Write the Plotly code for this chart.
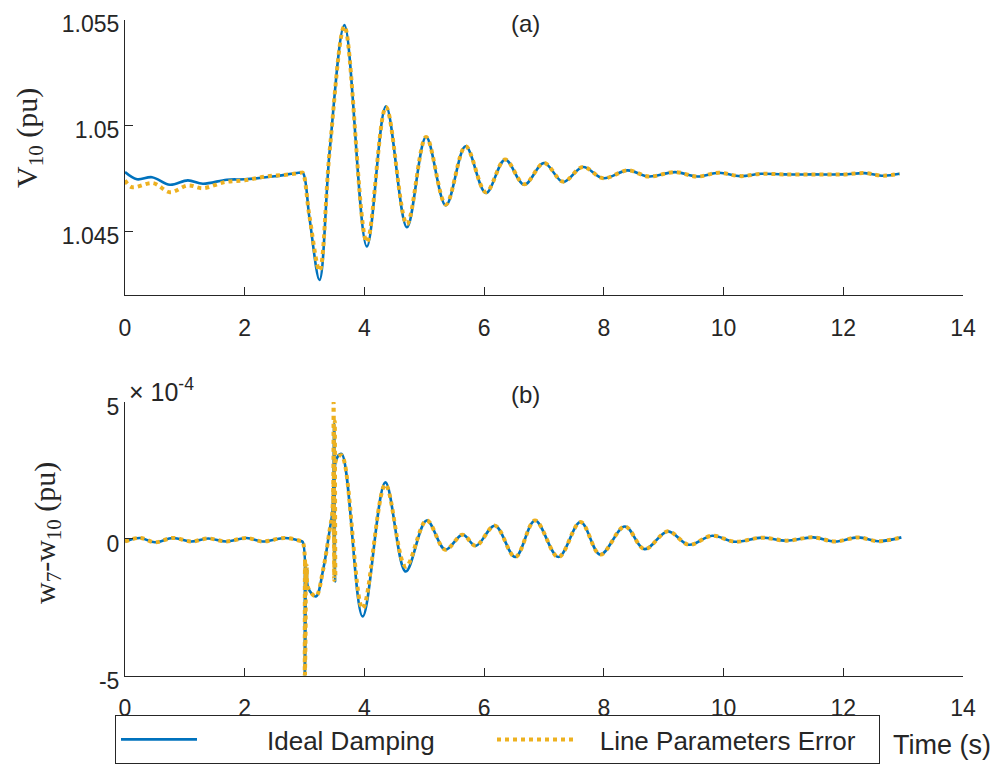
import plotly.graph_objects as go

# ---------------- data ----------------
x_ticks = [0, 2, 4, 6, 8, 10, 12, 14]

# (a) V10 (pu)
t_v_ideal = [0.00, 0.20, 0.45, 0.75, 1.05, 1.30, 1.70, 2.00, 2.50, 2.90, 2.97, 3.08, 3.25,
             3.42, 3.667, 4.04, 4.36, 4.71, 5.03, 5.36, 5.69, 6.03, 6.35, 6.67, 7.00,
             7.32, 7.65, 7.99, 8.40, 8.75, 9.19, 9.56, 9.92, 10.28, 10.63, 11.00, 11.50,
             12.00, 12.36, 12.67, 12.94]
v10_ideal = [1.04781, 1.04747, 1.04757, 1.04721, 1.04742, 1.04726, 1.04745, 1.04747, 1.04761,
             1.04778, 1.04778, 1.04568, 1.04271, 1.04884, 1.05476, 1.04429, 1.05092, 1.04520,
             1.04947, 1.04623, 1.04903, 1.04682, 1.04840, 1.04721, 1.04824, 1.04734, 1.04805,
             1.04752, 1.04789, 1.04760, 1.04781, 1.04760, 1.04778, 1.04762, 1.04773, 1.04770,
             1.04770, 1.04770, 1.04776, 1.04764, 1.04773]

t_v_err = [0.00, 0.11, 0.47, 0.75, 1.05, 1.30, 1.67, 2.00, 2.37, 2.75, 2.94, 2.97, 3.08, 3.25,
           3.42, 3.667, 4.04, 4.36, 4.71, 5.03, 5.36, 5.69, 6.03, 6.35, 6.67, 7.00,
           7.32, 7.65, 7.99, 8.40, 8.75, 9.19, 9.56, 9.92, 10.28, 10.63, 11.00, 11.50,
           12.00, 12.36, 12.67, 12.94]
v10_err = [1.04742, 1.04710, 1.04729, 1.04686, 1.04718, 1.04705, 1.04734, 1.04742, 1.04761,
           1.04770, 1.04778, 1.04778, 1.04575, 1.04315, 1.04884, 1.05470, 1.04450, 1.05088,
           1.04535, 1.04947, 1.04628, 1.04903, 1.04686, 1.04840, 1.04724, 1.04824, 1.04736,
           1.04805, 1.04752, 1.04789, 1.04760, 1.04781, 1.04760, 1.04778, 1.04762, 1.04773,
           1.04770, 1.04770, 1.04770, 1.04776, 1.04764, 1.04773]

# (b) w7 - w10 (pu), in units of 1e-4
t_w_ideal = [0.00, 0.25, 0.50, 0.80, 1.11, 1.39, 1.69, 2.03, 2.30, 2.67, 2.93, 2.97, 3.00,
             3.01, 3.025, 3.04, 3.06, 3.19, 3.31, 3.42, 3.465, 3.495, 3.51, 3.53, 3.62,
             3.97, 4.35, 4.69, 5.04, 5.35, 5.64, 5.86, 6.18, 6.52, 6.85, 7.24, 7.61,
             7.94, 8.35, 8.68, 9.07, 9.42, 9.81, 10.19, 10.64, 11.05, 11.50, 11.86,
             12.25, 12.58, 12.97]
w_ideal_e4 = [-0.10, 0.03, -0.13, 0.03, -0.10, 0.01, -0.10, 0.03, -0.10, 0.03, -0.08, -0.12,
              -6.0, -0.9, -1.6, -1.1, -1.8, -2.11, -1.13, 0.33, 1.0, 4.2, -1.56, 2.9, 3.10,
              -2.84, 2.06, -1.20, 0.67, -0.40, 0.15, -0.26, 0.48, -0.67, 0.67, -0.67, 0.61,
              -0.58, 0.45, -0.38, 0.27, -0.22, 0.11, -0.11, 0.04, -0.07, 0.05, -0.10,
              0.05, -0.09, 0.05]

t_w_err = [0.00, 0.25, 0.50, 0.80, 1.11, 1.39, 1.69, 2.03, 2.30, 2.67, 2.93, 2.97, 3.00,
           3.01, 3.025, 3.04, 3.06, 3.19, 3.31, 3.42, 3.465, 3.485, 3.495, 3.505, 3.515,
           3.53, 3.62, 3.97, 4.35, 4.69, 5.04, 5.35, 5.64, 5.86, 6.18, 6.52, 6.85, 7.24,
           7.61, 7.94, 8.35, 8.68, 9.07, 9.42, 9.81, 10.19, 10.64, 11.05, 11.50, 11.86,
           12.25, 12.58, 12.97]
w_err_e4 = [-0.10, 0.03, -0.13, 0.03, -0.10, 0.01, -0.10, 0.03, -0.10, 0.03, -0.08, -0.12,
            -6.0, -0.8, -1.6, -1.0, -1.8, -2.10, -1.13, 0.33, 1.0, 5.0, -1.5, 4.3, -1.4,
            2.9, 3.05, -2.55, 1.98, -1.02, 0.67, -0.40, 0.15, -0.26, 0.48, -0.67, 0.67,
            -0.67, 0.61, -0.58, 0.45, -0.38, 0.27, -0.22, 0.11, -0.11, 0.04, -0.07, 0.05,
            -0.10, 0.05, -0.09, 0.05]

v_ticks = [1.045, 1.05, 1.055]
v_tick_text = ["1.045", "1.05", "1.055"]
w_ticks = [-5, 0, 5]
w_tick_text = ["-5", "0", "5"]

series_names = ["Ideal Damping", "Line Parameters Error"]

# ---------------- styles ----------------
BLUE = "#0072BD"
ORANGE = "#EDB120"
AX = "#262626"
SANS = "Liberation Sans, Arial, sans-serif"
SERIF = "Liberation Serif, Times New Roman, serif"

W, H = 995, 765
ML, MR = 125, 32
PW = W - ML - MR


def px_x(p):
    return (p - ML) / PW


def px_y(p):
    return (H - p) / H


blue_line = dict(color=BLUE, width=2.6, shape="spline")
orange_line = dict(color=ORANGE, width=4, shape="spline", dash="4px,4px")
NB = "\u00a0"

fig = go.Figure()
fig.add_trace(go.Scatter(x=t_v_ideal, y=v10_ideal, mode="lines",
                         name=NB * 9 + series_names[0], legendwidth=285,
                         line=blue_line, xaxis="x", yaxis="y"))
fig.add_trace(go.Scatter(x=t_v_err, y=v10_err, mode="lines",
                         name=NB * 3 + series_names[1], legendwidth=296,
                         line=orange_line, xaxis="x", yaxis="y"))
fig.add_trace(go.Scatter(x=t_w_ideal, y=w_ideal_e4, mode="lines", name=series_names[0],
                         line=blue_line, xaxis="x2", yaxis="y2", showlegend=False))
fig.add_trace(go.Scatter(x=t_w_err, y=w_err_e4, mode="lines", name=series_names[1],
                         line=orange_line, xaxis="x2", yaxis="y2", showlegend=False))

axis_common = dict(showline=True, linecolor=AX, linewidth=1, ticks="inside", ticklen=8,
                   tickcolor=AX, tickwidth=1, showgrid=False, zeroline=False,
                   tickfont=dict(family=SANS, size=23, color=AX), mirror=False)

fig.update_layout(
    width=W, height=H,
    margin=dict(l=ML, r=MR, t=0, b=0, autoexpand=False),
    paper_bgcolor="white", plot_bgcolor="white",
    showlegend=True,
    xaxis=dict(range=[0, 14], tickvals=x_ticks, domain=[0, 1], anchor="y",
               ticklabelstandoff=12, **axis_common),
    yaxis=dict(range=[1.042, 1.055], tickvals=v_ticks, ticktext=v_tick_text,
               domain=[px_y(295), px_y(20)], anchor="x", ticklabelshift=4, **axis_common),
    xaxis2=dict(range=[0, 14], tickvals=x_ticks, domain=[0, 1], anchor="y2",
                ticklabelstandoff=12, **axis_common),
    yaxis2=dict(range=[-5, 5], tickvals=w_ticks, ticktext=w_tick_text,
                domain=[px_y(675.5), px_y(402)], anchor="x2", ticklabelshift=5, **axis_common),
    legend=dict(orientation="h", x=px_x(880), y=px_y(715), xanchor="right", yanchor="top",
                bordercolor=AX, borderwidth=1, bgcolor="rgba(255,255,255,0)", itemwidth=76,
                font=dict(family=SANS, size=26, color=AX)),
)

annotations = [
    dict(text="(a)", x=px_x(525), y=px_y(23), font=dict(family=SANS, size=24, color=AX)),
    dict(text="(b)", x=px_x(525), y=px_y(395), font=dict(family=SANS, size=24, color=AX)),
    dict(text="× 10<sup>-4</sup>", x=px_x(127), y=px_y(390), xanchor="left",
         font=dict(family=SANS, size=25, color=AX)),
    dict(text="Time (s)", x=px_x(891), y=px_y(745), xanchor="left",
         font=dict(family=SANS, size=27, color=AX)),
    dict(text="V<sub>10</sub> (pu)", x=px_x(29), y=px_y(138), textangle=-90,
         font=dict(family=SERIF, size=30, color=AX)),
    dict(text="w<sub>7</sub>-w<sub>10</sub> (pu)", x=px_x(47), y=px_y(533), textangle=-90,
         font=dict(family=SERIF, size=30, color=AX)),
]
for a in annotations:
    a.setdefault("xref", "paper")
    a.setdefault("yref", "paper")
    a.setdefault("showarrow", False)
    a.setdefault("xanchor", "center")
    a.setdefault("yanchor", "middle")
    fig.add_annotation(**a)

fig.write_html("out.html")
